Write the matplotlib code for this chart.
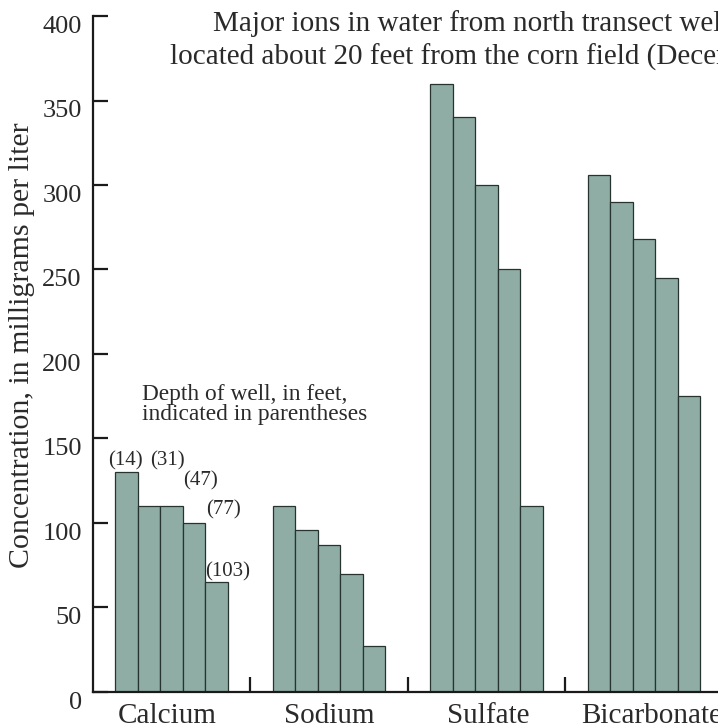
import matplotlib.pyplot as plt
import matplotlib.transforms as mtransforms
import numpy as np

# ions and concentrations (mg/L) for the five wells, shallow to deep
ions = ["Calcium", "Sodium", "Sulfate", "Bicarbonate"]
depths = ["(14)", "(31)", "(47)", "(77)", "(103)"]
calcium = [130, 110, 110, 100, 65]
sodium = [110, 96, 87, 70, 27]
sulfate = [360, 340, 300, 250, 110]
bicarbonate = [306, 290, 268, 245, 175]
yticks = [0, 50, 100, 150, 200, 250, 300, 350, 400]

values = [calcium, sodium, sulfate, bicarbonate]

plt.rcParams['font.family'] = ['Liberation Serif', 'DejaVu Serif']
text_color = '#2a2a2a'

fig = plt.figure(figsize=(7.18, 7.28), dpi=100)
ax = fig.add_axes([0.1295, 0.0495, 0.8705, 0.9285])

step = 7
bar_color = '#8fada5'
edge_color = '#26332f'
for g, vals in enumerate(values):
    x = g * step + np.arange(len(vals)) + 0.5
    ax.bar(x, vals, width=1.0, color=bar_color, edgecolor=edge_color, linewidth=0.9)

ax.set_xlim(-1, 26.8)
ax.set_ylim(0, 400)

ax.spines['top'].set_visible(False)
ax.spines['right'].set_visible(False)
for s in ['left', 'bottom']:
    ax.spines[s].set_linewidth(1.6)
    ax.spines[s].set_color('#1a1a1a')

ax.set_yticks(yticks)
ax.tick_params(axis='y', direction='in', length=11, width=1.6, labelsize=19,
               labelcolor=text_color, pad=8, color='#1a1a1a')
# tick numbers sit a little below their ticks in the original
shift = mtransforms.ScaledTranslation(0, -6 / 72, fig.dpi_scale_trans)
for t in ax.yaxis.get_major_ticks():
    t.label1.set_transform(t.label1.get_transform() + shift)

# separators between groups
ax.set_xticks([g * step + 6 for g in range(3)])
ax.set_xticklabels([])
ax.tick_params(axis='x', direction='in', length=11, width=1.6, color='#1a1a1a')

name_offsets = [-0.2, 0, 0.1, 0.35]
for g, name in enumerate(ions):
    ax.text(g * step + 2.5 + name_offsets[g], -18.5, name, ha='center',
            va='baseline', fontsize=21, color=text_color)

ax.set_ylabel("Concentration, in milligrams per liter", fontsize=21.5,
              color=text_color)
ax.yaxis.set_label_coords(-0.092, 0.513)

# depth labels over the calcium bars
label_pos = [(0.44, 137), (2.3, 137), (3.8, 125), (4.8, 108), (5.0, 71)]
for lab, (lx, ly) in zip(depths, label_pos):
    ax.text(lx, ly, lab, ha='center', va='center', fontsize=15, color=text_color)

ax.text(1.2, 170, "Depth of well, in feet,\nindicated in parentheses",
        ha='left', va='center', fontsize=16.8, color=text_color, linespacing=0.92)

fig.text(213 / 718, 1 - 24 / 728, "Major ions in water from north transect wells",
         ha='left', va='center', fontsize=21, color=text_color)
fig.text(170 / 718, 1 - 57 / 728, "located about 20 feet from the corn field (December",
         ha='left', va='center', fontsize=21, color=text_color)

fig.savefig("out.png", dpi=100)
